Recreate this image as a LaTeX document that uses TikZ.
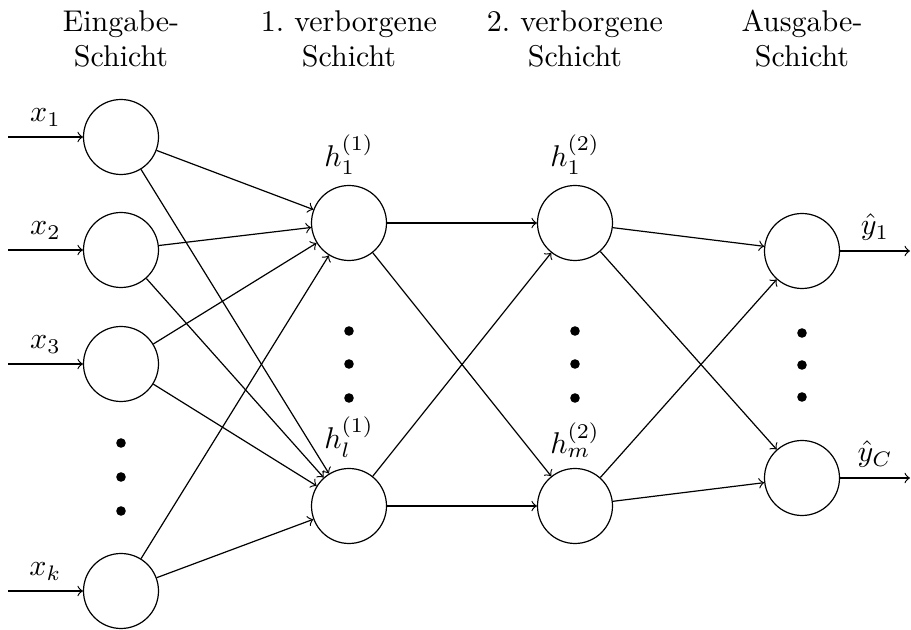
\documentclass[tikz,border=0pt]{standalone}
\begin{document}
\begin{tikzpicture}[x=1pt/3, y=-1pt/3,
  neuron/.style={circle, draw, minimum size=25pt, inner sep=0pt},
  vdot/.style={circle, fill, minimum size=3.2pt, inner sep=0pt},
  head/.style={anchor=base, inner sep=0pt},
  conn/.style={->}]
\useasboundingbox (0,0) rectangle (911,630);

% layer headings
\node[head] (t1a) at (121,32) {Eingabe-};
\node[head] (t1b) at (121,67) {Schicht};
\node[head] (t2a) at (349,32) {1.\ verborgene};
\node[head] (t2b) at (349,67) {Schicht};
\node[head] (t3a) at (575,32) {2.\ verborgene};
\node[head] (t3b) at (575,67) {Schicht};
\node[head] (t4a) at (802,32) {Ausgabe-};
\node[head] (t4b) at (802,67) {Schicht};

% input layer
\node[neuron] (i1) at (121,137) {};
\node[neuron] (i2) at (121,250) {};
\node[neuron] (i3) at (121,364) {};
\node[neuron] (ik) at (121,591) {};
\node[vdot] (di1) at (121,443) {};
\node[vdot] (di2) at (121,477) {};
\node[vdot] (di3) at (121,511) {};

% first hidden layer
\node[neuron, label=above:{$h_1^{(1)}$}] (a1) at (349,223) {};
\node[neuron, label=above:{$h_l^{(1)}$}] (al) at (349,506) {};
\node[vdot] (da1) at (349,331) {};
\node[vdot] (da2) at (349,364) {};
\node[vdot] (da3) at (349,398) {};

% second hidden layer
\node[neuron, label=above:{$h_1^{(2)}$}] (b1) at (575,223) {};
\node[neuron, label=above:{$h_m^{(2)}$}] (bm) at (575,506) {};
\node[vdot] (db1) at (575,331) {};
\node[vdot] (db2) at (575,364) {};
\node[vdot] (db3) at (575,398) {};

% output layer
\node[neuron] (o1) at (802,251) {};
\node[neuron] (oC) at (802,478) {};
\node[vdot] (do1) at (802,333) {};
\node[vdot] (do2) at (802,365) {};
\node[vdot] (do3) at (802,397) {};

% free ends of input and output arrows
\coordinate (s1) at (8,137);
\coordinate (s2) at (8,250);
\coordinate (s3) at (8,364);
\coordinate (sk) at (8,591);
\coordinate (e1) at (910,251);
\coordinate (eC) at (910,478);

\draw[conn] (s1) -- (i1) node[midway, above] {$x_1$};
\draw[conn] (s2) -- (i2) node[midway, above] {$x_2$};
\draw[conn] (s3) -- (i3) node[midway, above] {$x_3$};
\draw[conn] (sk) -- (ik) node[midway, above] {$x_k$};
\draw[conn] (o1) -- (e1) node[midway, above] {$\hat{y}_1$};
\draw[conn] (oC) -- (eC) node[midway, above] {$\hat{y}_C$};

% full connections between layers
\foreach \s in {i1,i2,i3,ik}
  \foreach \t in {a1,al}
    \draw[conn] (\s) -- (\t);
\foreach \s in {a1,al}
  \foreach \t in {b1,bm}
    \draw[conn] (\s) -- (\t);
\foreach \s in {b1,bm}
  \foreach \t in {o1,oC}
    \draw[conn] (\s) -- (\t);
\end{tikzpicture}
\end{document}
